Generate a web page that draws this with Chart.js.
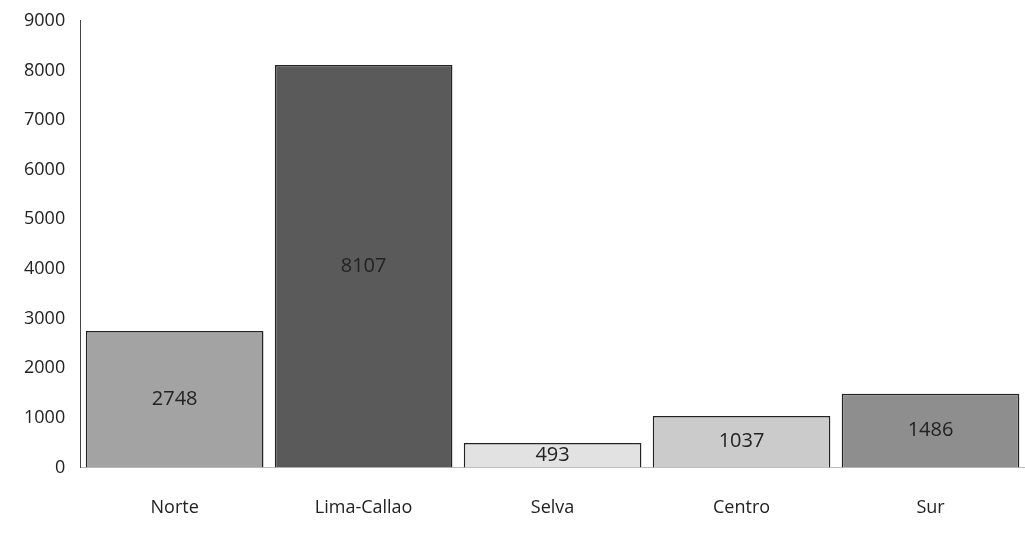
<!DOCTYPE html>
<html>
<head>
<meta charset="utf-8">
<script src="https://cdn.jsdelivr.net/npm/chart.js@4/dist/chart.umd.min.js"></script>
<style>
  html, body { margin: 0; padding: 0; background: #fff; }
  #wrap { width: 1025px; height: 553px; }
</style>
</head>
<body>
<div id="wrap"><canvas id="regionChart"></canvas></div>
<script>
const regions = ["Norte", "Lima-Callao", "Selva", "Centro", "Sur"];
const counts = [2748, 8107, 493, 1037, 1486];
const barColors = ["#a3a3a3", "#5a5a5a", "#e2e2e2", "#cbcbcb", "#8e8e8e"];

// writes each value in the middle of its bar
const valueLabels = {
  id: "valueLabels",
  afterDatasetsDraw(chart) {
    const ctx = chart.ctx;
    const meta = chart.getDatasetMeta(0);
    ctx.save();
    ctx.font = "20px 'Open Sans', sans-serif";
    ctx.fillStyle = "#222";
    ctx.textAlign = "center";
    ctx.textBaseline = "middle";
    meta.data.forEach((bar, i) => {
      const mid = (bar.y + bar.base) / 2;
      ctx.fillText(counts[i], bar.x, mid);
    });
    ctx.restore();
  }
};

new Chart(document.getElementById("regionChart"), {
  type: "bar",
  data: {
    labels: regions,
    datasets: [{
      data: counts,
      backgroundColor: barColors,
      borderColor: "#222",
      borderWidth: 1.5,
      categoryPercentage: 1,
      barPercentage: 0.94
    }]
  },
  options: {
    responsive: true,
    maintainAspectRatio: false,
    animation: false,
    layout: { padding: { top: 12, right: 0, bottom: 4, left: 14 } },
    plugins: { legend: { display: false }, tooltip: { enabled: false } },
    scales: {
      x: {
        grid: { display: false, drawTicks: false },
        border: { color: "#bbb", dash: [2, 3] },
        ticks: { color: "#222", padding: 30, font: { family: "'Open Sans', sans-serif", size: 18 } }
      },
      y: {
        min: 0,
        max: 9000,
        ticks: {
          stepSize: 1000,
          color: "#222",
          padding: 10,
          font: { family: "'Open Sans', sans-serif", size: 18 },
          callback: v => String(v)
        },
        grid: { display: false, drawTicks: true, tickLength: 5, tickColor: "#555" },
        border: { color: "#444", width: 1 }
      }
    }
  },
  plugins: [valueLabels]
});
</script>
</body>
</html>
